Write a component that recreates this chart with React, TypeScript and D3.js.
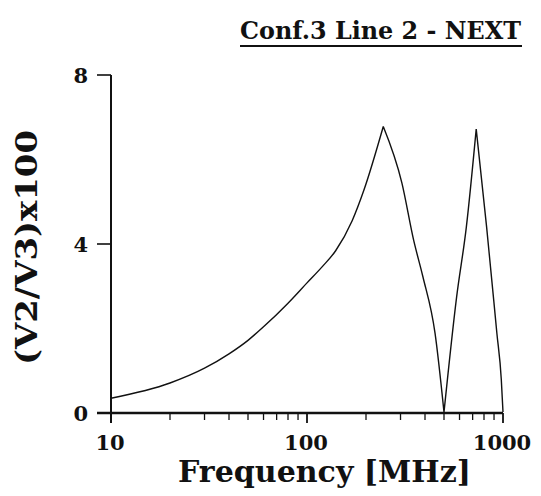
import { useEffect, useRef } from "react";
import * as d3 from "d3";

// frequency in MHz, ratio (V2/V3)x100
const freqs = [10, 20, 30, 40, 50, 60, 80, 100, 120, 140, 170, 195, 245, 305, 350, 390, 450, 500, 580, 650, 730, 825, 930, 980, 1000];
const values = [0.35, 0.71, 1.06, 1.4, 1.72, 2.04, 2.6, 3.08, 3.47, 3.84, 4.55, 5.27, 6.78, 5.44, 4.09, 3.23, 1.89, 0.02, 2.75, 4.4, 6.72, 4.4, 1.9, 0.8, 0.02];
// indexes where the curve has sharp corners (peaks and the notch)
const cusps = [0, 12, 17, 20, 24];
const yTicks = [0, 4, 8];
const xMajor = [10, 100, 1000];
const xMinor = [20, 30, 40, 50, 60, 70, 80, 90, 200, 300, 400, 500, 600, 700, 800, 900];

const FONT = "'DejaVu Serif', 'Liberation Serif', serif";

export default function App() {
  const ref = useRef<SVGSVGElement>(null);

  useEffect(() => {
    draw();
  }, []);

  function draw() {
    const svg = d3.select(ref.current);
    svg.selectAll("*").remove();

    const width = 541;
    const height = 496;
    svg.attr("width", width).attr("height", height);

    const x = d3.scaleLog().domain([10, 1000]).range([111, 503]);
    const y = d3.scaleLinear().domain([0, 8]).range([413, 75]);

    // title
    svg.append("text")
      .attr("x", 240)
      .attr("y", 39)
      .attr("textLength", 281)
      .attr("lengthAdjust", "spacingAndGlyphs")
      .style("font-family", FONT)
      .style("font-weight", 700)
      .style("font-size", "25px")
      .style("fill", "#111")
      .text("Conf.3 Line 2 - NEXT");
    svg.append("line")
      .attr("x1", 240).attr("x2", 522)
      .attr("y1", 46).attr("y2", 46)
      .attr("stroke", "#111").attr("stroke-width", 2);

    // y axis
    svg.append("line")
      .attr("x1", x(10)).attr("x2", x(10))
      .attr("y1", y(8)).attr("y2", y(0) + 10)
      .attr("stroke", "#111").attr("stroke-width", 2);
    yTicks.forEach((t) => {
      svg.append("line")
        .attr("x1", x(10) - 14).attr("x2", x(10))
        .attr("y1", y(t)).attr("y2", y(t))
        .attr("stroke", "#111").attr("stroke-width", 1.6);
      svg.append("text")
        .attr("x", 88)
        .attr("y", y(t) + 7.5)
        .attr("text-anchor", "end")
        .style("font-family", FONT)
        .style("font-weight", 700)
        .style("font-size", "21px")
        .style("fill", "#111")
        .text(t);
    });

    // x axis
    svg.append("line")
      .attr("x1", x(10) - 14).attr("x2", x(1000))
      .attr("y1", y(0)).attr("y2", y(0))
      .attr("stroke", "#111").attr("stroke-width", 2.4);
    xMajor.forEach((t) => {
      svg.append("line")
        .attr("x1", x(t)).attr("x2", x(t))
        .attr("y1", y(0)).attr("y2", y(0) + 10)
        .attr("stroke", "#111").attr("stroke-width", 1.8);
    });
    xMinor.forEach((t) => {
      svg.append("line")
        .attr("x1", x(t)).attr("x2", x(t))
        .attr("y1", y(0)).attr("y2", y(0) + 7)
        .attr("stroke", "#111").attr("stroke-width", 1.3);
    });
    xMajor.forEach((t) => {
      svg.append("text")
        .attr("x", x(t) - 1)
        .attr("y", 450)
        .attr("text-anchor", "middle")
        .style("font-family", FONT)
        .style("font-weight", 700)
        .style("font-size", "21px")
        .style("fill", "#111")
        .text(t);
    });

    // axis titles
    svg.append("text")
      .attr("x", 178)
      .attr("y", 482)
      .attr("textLength", 293)
      .attr("lengthAdjust", "spacingAndGlyphs")
      .style("font-family", FONT)
      .style("font-weight", 700)
      .style("font-size", "30px")
      .style("fill", "#111")
      .text("Frequency [MHz]");

    svg.append("text")
      .attr("transform", "translate(37,365) rotate(-90)")
      .attr("textLength", 235)
      .attr("lengthAdjust", "spacingAndGlyphs")
      .style("font-family", FONT)
      .style("font-weight", 700)
      .style("font-size", "30px")
      .style("fill", "#111")
      .text("(V2/V3)x100");

    // curve: smooth between the sharp corners
    const pts = freqs.map((f, i) => [f, values[i]] as [number, number]);
    const line = d3.line<[number, number]>()
      .x((d) => x(d[0]))
      .y((d) => y(d[1]))
      .curve(d3.curveMonotoneX);
    const pieces = d3.pairs(cusps).map(([a, b]) => pts.slice(a, b + 1));
    svg.append("path")
      .attr("d", pieces.map((p) => line(p)).join(""))
      .attr("fill", "none")
      .attr("stroke", "#111")
      .attr("stroke-width", 1.4)
      .attr("stroke-linejoin", "miter");
  }

  return (
    <svg
      ref={ref}
      style={{ position: "absolute", left: 0, top: 0, background: "white" }}
    ></svg>
  );
}
